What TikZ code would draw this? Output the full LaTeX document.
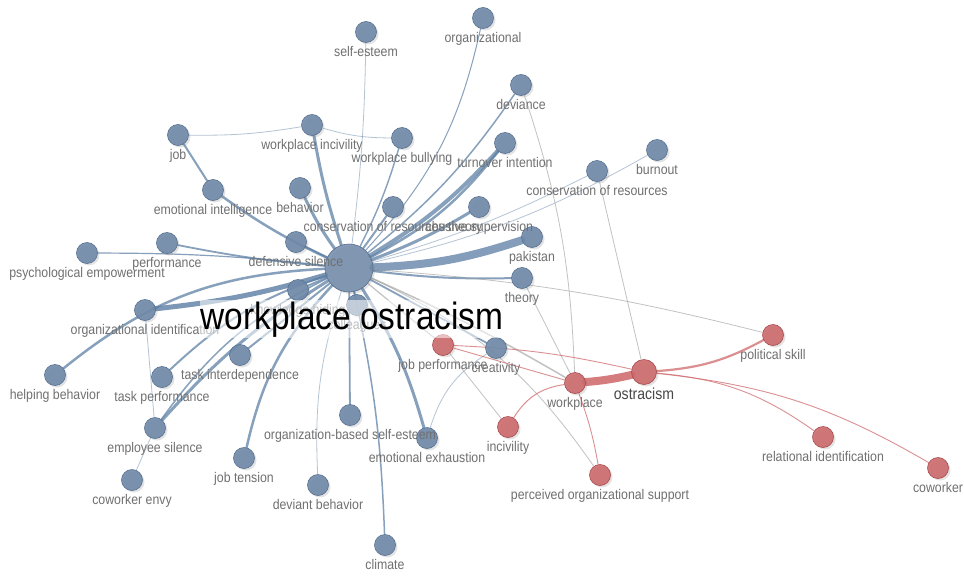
\documentclass[tikz,border=0pt]{standalone}
\usepackage{fontspec}
\setmainfont{Liberation Sans}[FakeStretch=0.88]
\usetikzlibrary{calc,shadows}
\definecolor{nblue}{HTML}{6F89A9}
\definecolor{nbluedk}{HTML}{56708F}
\definecolor{eblue}{HTML}{5A7DA3}
\definecolor{nred}{HTML}{CC6A6C}
\definecolor{nreddk}{HTML}{A9494C}
\definecolor{ered}{HTML}{D06A6D}
\definecolor{egrey}{HTML}{9A9A9A}
\definecolor{lblgrey}{HTML}{707070}
\pgfdeclarelayer{bg}
\pgfdeclarelayer{fg}
\pgfdeclarelayer{top}
\pgfsetlayers{bg,main,fg,top}
\tikzset{
 nodebase/.style={circle, line width=0.6pt, minimum size=21pt, inner sep=0pt, fill opacity=0.9,
   drop shadow={opacity=0.22, shadow xshift=2pt, shadow yshift=-2pt}},
 bnode/.style={nodebase, fill=nblue, draw=nbluedk},
 rnode/.style={nodebase, fill=nred, draw=nreddk},
 lbl/.style={text=lblgrey, font=\fontsize{14}{14}\selectfont, inner sep=0pt},
 be/.style={draw=eblue, draw opacity=0.72, line cap=round},
 bt/.style={draw=eblue, draw opacity=0.45, line width=0.8pt},
 re/.style={draw=ered, draw opacity=0.75, line cap=round},
 ge/.style={draw=egrey, draw opacity=0.6, line width=0.8pt},
}
\newcommand\kw[5]{\node[#5] (#1) at (#2,#3) {};
 \begin{pgfonlayer}{fg}\node[lbl, anchor=base] at ($(#1)+(0,24)$) {#4};\end{pgfonlayer}}
\begin{document}
\begin{tikzpicture}[x=1pt,y=-1pt]
\useasboundingbox (0,0) rectangle (964,581);
\begin{pgfonlayer}{bg}
\fill[white] (0,0) rectangle (964,581);
\end{pgfonlayer}
% central node
\node[nodebase, fill=nblue, draw=nbluedk, minimum size=48pt, fill opacity=0.85] (wo) at (349,268) {};
% blue cluster
\kw{se}{366}{32}{self-esteem}{bnode}
\kw{org}{483}{18}{organizational}{bnode}
\kw{dev}{521}{85}{deviance}{bnode}
\kw{job}{178}{135}{job}{bnode}
\kw{wi}{312}{125}{workplace incivility}{bnode}
\kw{wb}{402}{138}{workplace bullying}{bnode}
\kw{ti}{505}{143}{turnover intention}{bnode}
\kw{bo}{657}{150}{burnout}{bnode}
\kw{cor}{597}{171}{conservation of resources}{bnode}
\kw{ei}{213}{190}{emotional intelligence}{bnode}
\kw{beh}{300}{188}{behavior}{bnode}
\kw{cort}{393}{207}{conservation of resources theory}{bnode}
\kw{as}{479}{207}{abusive supervision}{bnode}
\kw{pak}{532}{237}{pakistan}{bnode}
\kw{ds}{296}{242}{defensive silence}{bnode}
\kw{perf}{167}{243}{performance}{bnode}
\kw{pe}{87}{253}{psychological empowerment}{bnode}
\kw{th}{522}{278}{theory}{bnode}
\kw{oi}{145}{310}{organizational identification}{bnode}
\kw{kh}{298}{290}{knowledge hiding}{bnode}
\kw{col}{357}{305}{colleagues}{bnode}
\kw{cre}{496}{348}{creativity}{bnode}
\kw{tint}{240}{355}{task interdependence}{bnode}
\kw{hb}{55}{375}{helping behavior}{bnode}
\kw{tp}{162}{377}{task performance}{bnode}
\kw{es}{155}{428}{employee silence}{bnode}
\kw{obse}{350}{415}{organization-based self-esteem}{bnode}
\kw{ee}{427}{438}{emotional exhaustion}{bnode}
\kw{ce}{132}{480}{coworker envy}{bnode}
\kw{jt}{244}{458}{job tension}{bnode}
\kw{db}{318}{485}{deviant behavior}{bnode}
\kw{cl}{385}{545}{climate}{bnode}
% red cluster
\kw{jp}{443}{345}{job performance}{rnode}
\kw{wp}{575}{383}{workplace}{rnode}
\node[rnode, minimum size=25pt] (os) at (644,372) {};
\begin{pgfonlayer}{fg}\node[lbl, anchor=base, text=black!72, font=\fontsize{16}{16}\selectfont] at ($(os)+(0,27)$) {ostracism};\end{pgfonlayer}
\kw{ps}{773}{335}{political skill}{rnode}
\kw{inc}{508}{427}{incivility}{rnode}
\kw{ri}{823}{437}{relational identification}{rnode}
\kw{pos}{600}{475}{perceived organizational support}{rnode}
\kw{cw}{938}{468}{coworker}{rnode}
% big label
\begin{pgfonlayer}{top}
\node[anchor=base, font=\fontsize{38}{38}\selectfont, text=black, fill=white, fill opacity=0.55, text opacity=1, inner sep=1pt] at (352,329) {workplace ostracism};
\end{pgfonlayer}
% edges
\begin{pgfonlayer}{bg}
\draw[bt] (wo) to[bend right=3] (se);
\draw[be, line width=1pt] (wo) to[bend right=15] (org);
\draw[be, line width=1.5pt] (wo) to[bend right=8] (dev);
\draw[be, line width=3pt] (wo) to[bend left=4] (wi);
\draw[be, line width=1.4pt] (wo) to[bend right=5] (wb);
\draw[be, line width=4pt] (wo) to[bend right=8] (ti);
\draw[be, line width=2.5pt] (wo) to[bend right=12] (ti);
\draw[be, line width=3pt] (wo) to[bend right=5] (as);
\draw[be, line width=8pt, draw opacity=0.75] (wo) to[bend right=8] (pak);
\draw[bt] (wo) to[bend right=5] (cor);
\draw[bt] (wo) to[bend right=8] (bo);
\draw[be, line width=3pt] (wo) to[bend left=5] (beh);
\draw[be, line width=2pt] (wo) to (cort);
\draw[be, line width=2.5pt] (wo) to[bend left=5] (ei);
\draw[be, line width=2pt] (ei) to (job);
\draw[be, line width=1.8pt] (wo) to (ds);
\draw[be, line width=1.8pt] (wo) to[bend left=3] (perf);
\draw[be, line width=1.2pt] (wo) to[bend right=3] (pe);
\draw[be, line width=2pt] (wo) to[bend right=4] (th);
\draw[be, line width=5pt, draw opacity=0.8] (wo) to[bend left=5] (oi);
\draw[be, line width=2pt] (wo) to (kh);
\draw[be, line width=2pt] (wo) to (col);
\draw[be, line width=2.5pt] (wo) to[bend right=18] (hb);
\draw[be, line width=2pt] (wo) to[bend right=12] (tp);
\draw[be, line width=3pt] (wo) to[bend right=8] (es);
\draw[be, line width=1.5pt] (wo) to[bend right=14] (es);
\draw[be, line width=2pt] (wo) to (tint);
\draw[be, line width=2.5pt] (wo) to[bend right=15] (jt);
\draw[bt] (wo) to[bend right=10] (db);
\draw[be, line width=1.8pt] (wo) to (obse);
\draw[be, line width=1.5pt] (wo) to[bend left=5] (cl);
\draw[be, line width=3pt] (wo) to[bend left=8] (ee);
\draw[be, line width=1.8pt] (wo) to (cre);
\draw[ge, line width=1.2pt] (wo) to (jp);
\draw[ge, line width=1.5pt] (wo) to[bend left=3] (wp);
\draw[ge] (wo) to[bend left=5] (ps);
\draw[ge] (wo) to[bend left=15] (pos);
\draw[bt] (job) to[bend right=5] (wi);
\draw[bt] (wi) to[bend right=8] (wb);
\draw[bt] (oi) to (es);
\draw[bt] (ce) to (es);
\draw[bt] (ee) to[bend left=20] (cre);
\draw[ge] (dev) to[bend left=8] (wp);
\draw[ge] (cor) to (os);
\draw[ge] (th) to (wp);
\draw[ge] (jp) to (inc);
% red edges
\draw[re, line width=8pt, draw opacity=0.88] (wp) to[bend right=4] (os);
\draw[re, line width=2.2pt] (os) to[bend right=12] (ps);
\draw[re, line width=0.9pt] (os) to[bend left=15] (ri);
\draw[re, line width=0.9pt] (os) to[bend left=12] (cw);
\draw[re, line width=1pt] (wp) to[bend right=25] (inc);
\draw[re, line width=0.9pt] (wp) to[bend left=5] (pos);
\draw[re, line width=0.9pt] (jp) to (wp);
\draw[re, line width=0.9pt] (jp) to[bend left=5] (os);
\end{pgfonlayer}
\end{tikzpicture}
\end{document}
